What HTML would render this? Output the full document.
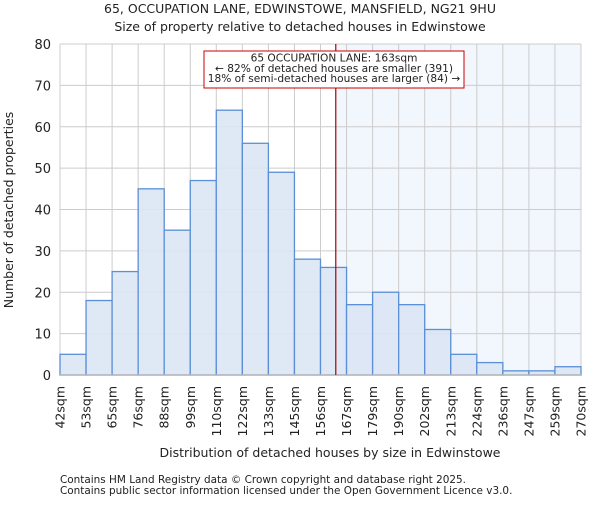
<!DOCTYPE html>
<html><head><meta charset="utf-8"><style>
body{margin:0;background:#fff;font-family:"Liberation Sans","DejaVu Sans",sans-serif;}
svg text{font-family:"DejaVu Sans","Liberation Sans",sans-serif;fill:#222;}
</style></head><body>
<svg id="chart" width="600" height="500" viewBox="0 0 600 500" xmlns="http://www.w3.org/2000/svg">
<text x="300" y="13" text-anchor="middle" font-size="12.5">65, OCCUPATION LANE, EDWINSTOWE, MANSFIELD, NG21 9HU</text>
<text x="300" y="31" text-anchor="middle" font-size="12.5">Size of property relative to detached houses in Edwinstowe</text>
<g id="grid"></g>
<g id="bars"></g>
<g id="axes"></g>
<text x="330" y="457" text-anchor="middle" font-size="12.5">Distribution of detached houses by size in Edwinstowe</text>
<text x="13" y="210" text-anchor="middle" font-size="12.5" transform="rotate(-90 13 210)">Number of detached properties</text>
<text x="60" y="483" font-size="10.45" fill="#444">Contains HM Land Registry data © Crown copyright and database right 2025.</text>
<text x="60" y="494" font-size="10.45" fill="#444">Contains public sector information licensed under the Open Government Licence v3.0.</text>
</svg>
<script>
const binLabels=["42sqm","53sqm","65sqm","76sqm","88sqm","99sqm","110sqm","122sqm","133sqm","145sqm","156sqm","167sqm","179sqm","190sqm","202sqm","213sqm","224sqm","236sqm","247sqm","259sqm","270sqm"];
const binEdges=[42,53,65,76,88,99,110,122,133,145,156,167,179,190,202,213,224,236,247,259,270];
const counts=[5,18,25,45,35,47,64,56,49,28,26,17,20,17,11,5,3,1,1,2];
const yTicks=[0,10,20,30,40,50,60,70,80];
const markerValue=163;
const annotationLines=["65 OCCUPATION LANE: 163sqm","← 82% of detached houses are smaller (391)","18% of semi-detached houses are larger (84) →"];

const NS="http://www.w3.org/2000/svg";
const L=60,R=581,T=44,B=375,yMax=80;
const bw=(R-L)/counts.length;
const xi=i=>L+i*bw;
const y=v=>B-(v/yMax)*(B-T);
function xv(v){for(let i=0;i<binEdges.length-1;i++){if(v<=binEdges[i+1])return xi(i)+(v-binEdges[i])/(binEdges[i+1]-binEdges[i])*bw;}return R;}
function mk(tag,attrs,parent){const e=document.createElementNS(NS,tag);for(const k in attrs)e.setAttribute(k,attrs[k]);parent.appendChild(e);return e;}
const grid=document.getElementById('grid'),bars=document.getElementById('bars'),axes=document.getElementById('axes');
const mx=xv(markerValue)-1.3;
let sh=mk('rect',{x:mx,y:T,width:R-mx,height:B-T,fill:'#f2f6fd'},grid);


binEdges.forEach((e,i)=>{let l=mk('line',{x1:xi(i),x2:xi(i),y1:T,y2:B,stroke:'#cccccc','stroke-width':1},grid);

});
yTicks.forEach(t=>{let l=mk('line',{x1:L,x2:R,y1:y(t),y2:y(t),stroke:'#cccccc','stroke-width':1},grid);


let tx=mk('text',{x:L-9,y:y(t)+5,'text-anchor':'end','font-size':13},axes);tx.textContent=t;

});
counts.forEach((c,i)=>{let r=mk('rect',{x:xi(i),y:y(c),width:bw,height:B-y(c),fill:'#dce6f4','fill-opacity':0.9,stroke:'#5b8fd6','stroke-width':1.3},bars);

});
binLabels.forEach((s,i)=>{const x=xi(i)+4.5,yy=386;let tx=mk('text',{x:x,y:yy,'text-anchor':'end','font-size':12.5,transform:`rotate(-90 ${x} ${yy})`},axes);tx.textContent=s;

});
let ax=mk('line',{x1:L,x2:R,y1:B,y2:B,stroke:'#bbbbbb','stroke-width':1.5},axes);


let ml=mk('line',{x1:mx,x2:mx,y1:T,y2:B,stroke:'#aa0000','stroke-width':1.2},axes);


let box=mk('rect',{x:204,y:51,width:260,height:37,fill:'#fff',stroke:'#cc0000','stroke-width':1},axes);


annotationLines.forEach((s,i)=>{let tx=mk('text',{x:334,y:61.5+i*10.3,'text-anchor':'middle','font-size':10.6},axes);tx.textContent=s;

});
</script>
</body></html>
